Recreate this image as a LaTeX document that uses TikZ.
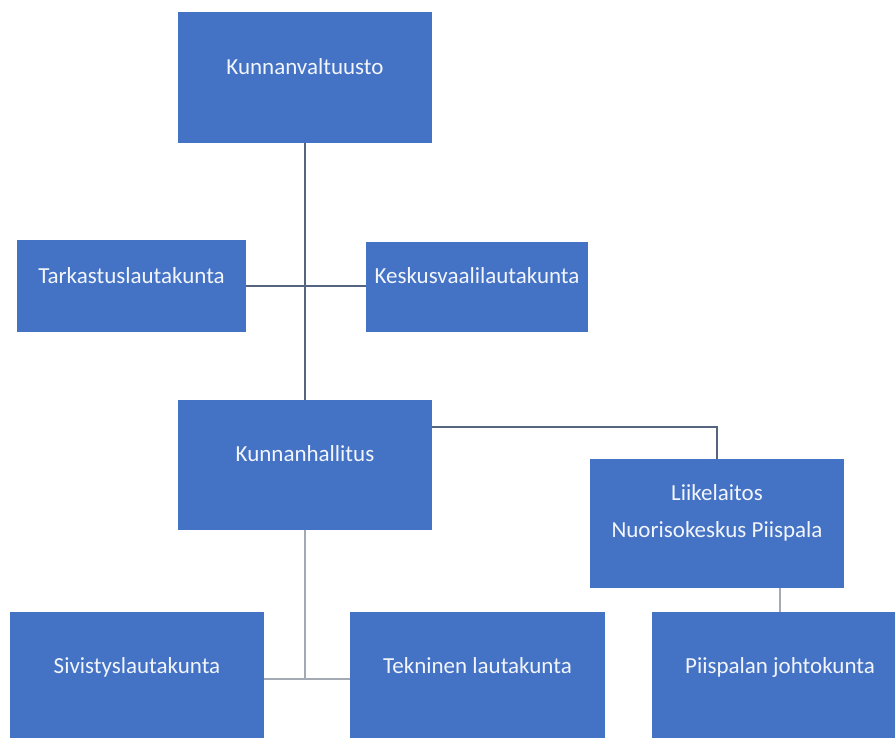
\documentclass[tikz,border=0pt]{standalone}
\usepackage{fontspec}
\setmainfont{Carlito}
\usetikzlibrary{calc}
\definecolor{boxblue}{HTML}{4472C4}
\definecolor{lineA}{HTML}{56657F}
\definecolor{lineB}{HTML}{A3AAB4}
\definecolor{txtcol}{HTML}{F2F5FB}
\tikzset{
  orgbox/.style={draw=none, fill=boxblue, rectangle, inner sep=0pt},
  orgtxt/.style={text=txtcol, font=\fontsize{23}{28}\selectfont, anchor=base, inner sep=0pt},
  linkA/.style={draw=lineA, line width=1.5pt},
  linkB/.style={draw=lineB, line width=1.8pt},
}
\begin{document}
\begin{tikzpicture}[x=1pt,y=-1pt]
\useasboundingbox (0,0) rectangle (895,738);
% boxes
\node[orgbox, minimum width=254pt, minimum height=131pt] (kv) at (305,77.5) {};
\node[orgbox, minimum width=229pt, minimum height=92pt] (tark) at (131.5,286) {};
\node[orgbox, minimum width=222pt, minimum height=90pt] (kesk) at (477,287) {};
\node[orgbox, minimum width=254pt, minimum height=130pt] (kh) at (305,465) {};
\node[orgbox, minimum width=254pt, minimum height=129pt] (li) at (717,523.5) {};
\node[orgbox, minimum width=254pt, minimum height=134pt] (siv) at (137,679) {};
\node[orgbox, minimum width=255pt, minimum height=134pt] (tek) at (477.5,679) {};
\node[orgbox, minimum width=256pt, minimum height=134pt] (pii) at (780,679) {};
% texts
\node[orgtxt] (kvt) at ($(kv.north)+(0,63)$) {Kunnanvaltuusto};
\node[orgtxt] (tarkt) at ($(tark.north)+(0,44)$) {Tarkastuslautakunta};
\node[orgtxt] (keskt) at ($(kesk.north)+(0,42)$) {Keskusvaalilautakunta};
\node[orgtxt] (kht) at ($(kh.north)+(0,62)$) {Kunnanhallitus};
\node[orgtxt] (lit1) at ($(li.north)+(0,42)$) {Liikelaitos};
\node[orgtxt] (lit2) at ($(li.north)+(0,79)$) {Nuorisokeskus Piispala};
\node[orgtxt] (sivt) at ($(siv.north)+(0,62)$) {Sivistyslautakunta};
\node[orgtxt] (tekt) at ($(tek.north)+(0,62)$) {Tekninen lautakunta};
\node[orgtxt] (piit) at ($(pii.north)+(0,62)$) {Piispalan johtokunta};
% connectors
\draw[linkA] (kv.south) -- (kh.north);
\draw[linkA] (tark.east) -- (tark.east -| kesk.west);
\coordinate (khr) at ($(kh.north east)+(0,27)$);
\draw[linkA] (khr) -| (li.north);
\coordinate (bus) at (kh.south |- siv.east);
\draw[linkB] (kh.south) -- (bus);
\draw[linkB] (siv.east) -- (tek.west);
\draw[linkB] (pii.north) -- (pii.north |- li.south);
\end{tikzpicture}
\end{document}
